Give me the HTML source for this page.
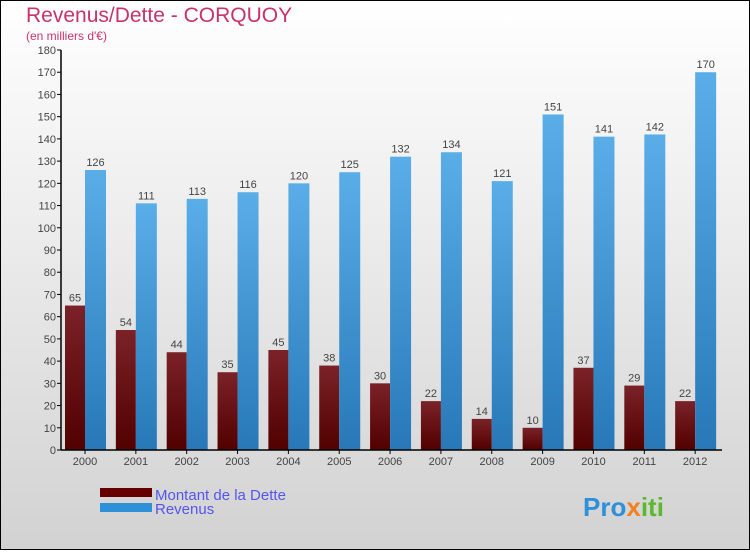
<!DOCTYPE html>
<html><head><meta charset="utf-8"><style>
body{margin:0}
svg text{font-family:"Liberation Sans",sans-serif}
</style></head><body>
<svg id="c" width="750" height="550" xmlns="http://www.w3.org/2000/svg">
<defs>
<linearGradient id="bg" x1="0" y1="0" x2="0" y2="1"><stop offset="0" stop-color="#ffffff"/><stop offset="1" stop-color="#d2d2d2"/></linearGradient>
<linearGradient id="red" x1="0" y1="0" x2="0" y2="1"><stop offset="0" stop-color="#7a2228"/><stop offset="1" stop-color="#520000"/></linearGradient>
<linearGradient id="blue" x1="0" y1="0" x2="1" y2="0"><stop offset="0" stop-color="#3a8fd0"/><stop offset="1" stop-color="#2c7cbf"/></linearGradient>
<linearGradient id="blue2" x1="0" y1="0" x2="0" y2="1"><stop offset="0" stop-color="#5aaee8"/><stop offset="1" stop-color="#2878b8"/></linearGradient>
</defs>
<rect x="0.5" y="0.5" width="749" height="549" fill="url(#bg)" stroke="#000"/>
<text x="26" y="22" font-size="21" fill="#c8336a">Revenus/Dette - CORQUOY</text>
<text x="26" y="40" font-size="12" fill="#c8336a">(en milliers d'€)</text>
<g id="plot"></g>
<rect x="100" y="488" width="52" height="9" fill="#660000"/>
<text x="155" y="500" font-size="15" fill="#5555ee">Montant de la Dette</text>
<rect x="100" y="503" width="52" height="9" fill="#2e90d8"/>
<text x="155" y="514" font-size="15" fill="#5555ee">Revenus</text>
<text x="583" y="516" font-size="26" font-weight="bold" fill="#2e90d8">Pro<tspan fill="#f08020">x</tspan><tspan fill="#5cb82e">iti</tspan></text>
</svg>
<script>
const years=["2000","2001","2002","2003","2004","2005","2006","2007","2008","2009","2010","2011","2012"];
const dette=[65,54,44,35,45,38,30,22,14,10,37,29,22];
const revenus=[126,111,113,116,120,125,132,134,121,151,141,142,170];
const ticks=[0,10,20,30,40,50,60,70,80,90,100,110,120,130,140,150,160,170,180];
const NS="http://www.w3.org/2000/svg";
const g=document.getElementById('plot');
const x0=61,x1=722,y0=450,ymax=180,ph=400;
const gw=(x1-x0)/years.length;
const y=v=>y0-v/ymax*ph;
function mk(t,a,txt){const e=document.createElementNS(NS,t);for(const k in a)e.setAttribute(k,a[k]);if(txt!==undefined)e.textContent=txt;g.appendChild(e);return e;}
ticks.forEach(t=>{
 const l=mk('line',{x1:x0-4,x2:x0,y1:y(t),y2:y(t),stroke:'#000'});
 
 
 const tx=mk('text',{x:x0-5,y:y(t)+4,'font-size':11,fill:'#444','text-anchor':'end'},t);
 
 
});
years.forEach((yr,i)=>{
 const gx=x0+i*gw;
 const rx=gx+4, bx=gx+24;
 const r=mk('rect',{x:rx,y:y(dette[i]),width:20,height:y0-y(dette[i]),fill:'url(#red)'});
 
 
 const b=mk('rect',{x:bx,y:y(revenus[i]),width:21,height:y0-y(revenus[i]),fill:'url(#blue2)'});
 
 
 const t1=mk('text',{x:rx+10,y:y(dette[i])-4,'font-size':11,fill:'#444','text-anchor':'middle'},dette[i]);
 
 
 const t2=mk('text',{x:bx+10.5,y:y(revenus[i])-4,'font-size':11,fill:'#444','text-anchor':'middle'},revenus[i]);
 
 
 const tk=mk('line',{x1:gx+24,x2:gx+24,y1:y0,y2:y0+4,stroke:'#000'});
 
 
 const xl=mk('text',{x:gx+24,y:y0+15,'font-size':11,fill:'#444','text-anchor':'middle'},yr);
 
 
});
const ya=mk('line',{x1:x0,x2:x0,y1:y(ymax),y2:y0,stroke:'#000','stroke-width':1.5});


const xa=mk('line',{x1:x0,x2:x1,y1:y0,y2:y0,stroke:'#000','stroke-width':1.5});


</script>
</body></html>
